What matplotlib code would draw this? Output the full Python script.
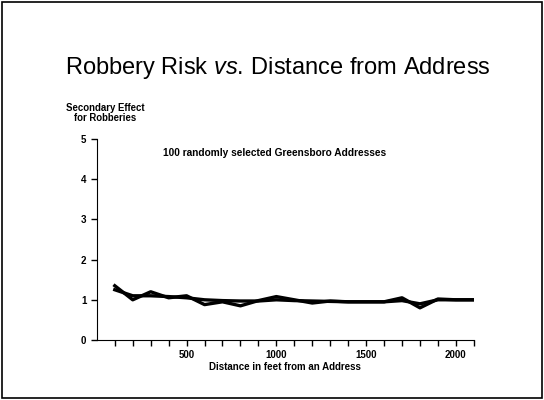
import matplotlib.pyplot as plt
from matplotlib.patches import Rectangle

plt.rcParams['font.family'] = ['Liberation Sans', 'DejaVu Sans']
plt.rcParams['mathtext.fontset'] = 'custom'
plt.rcParams['mathtext.rm'] = 'Liberation Sans'
plt.rcParams['mathtext.it'] = 'Liberation Sans:italic'

# distance in feet
dist = [100, 200, 300, 400, 500, 600, 700, 800, 900, 1000, 1100,
        1200, 1300, 1400, 1500, 1600, 1700, 1800, 1900, 2000, 2100]
# two traced series of the secondary effect
effect_a = [1.35, 1.0, 1.2, 1.05, 1.1, 0.88, 0.95, 0.85, 0.98, 1.08, 1.0,
            0.92, 0.97, 0.95, 0.95, 0.95, 1.05, 0.8, 1.02, 1.0, 1.0]
effect_b = [1.25, 1.1, 1.1, 1.08, 1.05, 1.0, 0.98, 0.97, 0.97, 1.0, 0.98,
            0.97, 0.96, 0.95, 0.95, 0.95, 0.98, 0.9, 1.0, 1.0, 1.0]

xlabels = [500, 1000, 1500, 2000]

fig = plt.figure(figsize=(5.44, 4.0), dpi=100)
fig.patches.append(Rectangle((0.004, 0.005), 0.992, 0.99, transform=fig.transFigure,
                             fill=False, edgecolor='black', linewidth=1.2))

ax = fig.add_axes([0.178, 0.15, 0.693, 0.5025])
ax.plot(dist, effect_a, color='black', linewidth=2.4)
ax.plot(dist, effect_b, color='black', linewidth=2.4)

ax.set_xlim(0, 2100)
ax.set_ylim(0, 5)
ax.spines['top'].set_visible(False)
ax.spines['right'].set_visible(False)
ax.set_xticks(dist, minor=True)
ax.set_xticks(xlabels)
ax.set_yticks([0, 1, 2, 3, 4, 5])
ax.tick_params(axis='both', which='both', direction='out', length=4, width=1, labelsize=7)
for lab in ax.get_xticklabels() + ax.get_yticklabels():
    lab.set_fontweight('bold')

ax.set_xlabel('Distance in feet from an Address', fontsize=7, fontweight='bold', labelpad=1)
ax.text(370, 4.66, '100 randomly selected Greensboro Addresses', fontsize=7.3,
        fontweight='bold', va='center')

fig.text(0.12, 0.83,
         r'$\mathrm{Robbery\ Risk\ }\mathit{vs.}\,\mathrm{Distance\ from\ Address}$',
         fontsize=17, va='center')
fig.text(0.194, 0.718, 'Secondary Effect\nfor Robberies', fontsize=6.9, fontweight='bold',
         ha='center', va='center', linespacing=1.05)

fig.savefig('out.png', dpi=100)
